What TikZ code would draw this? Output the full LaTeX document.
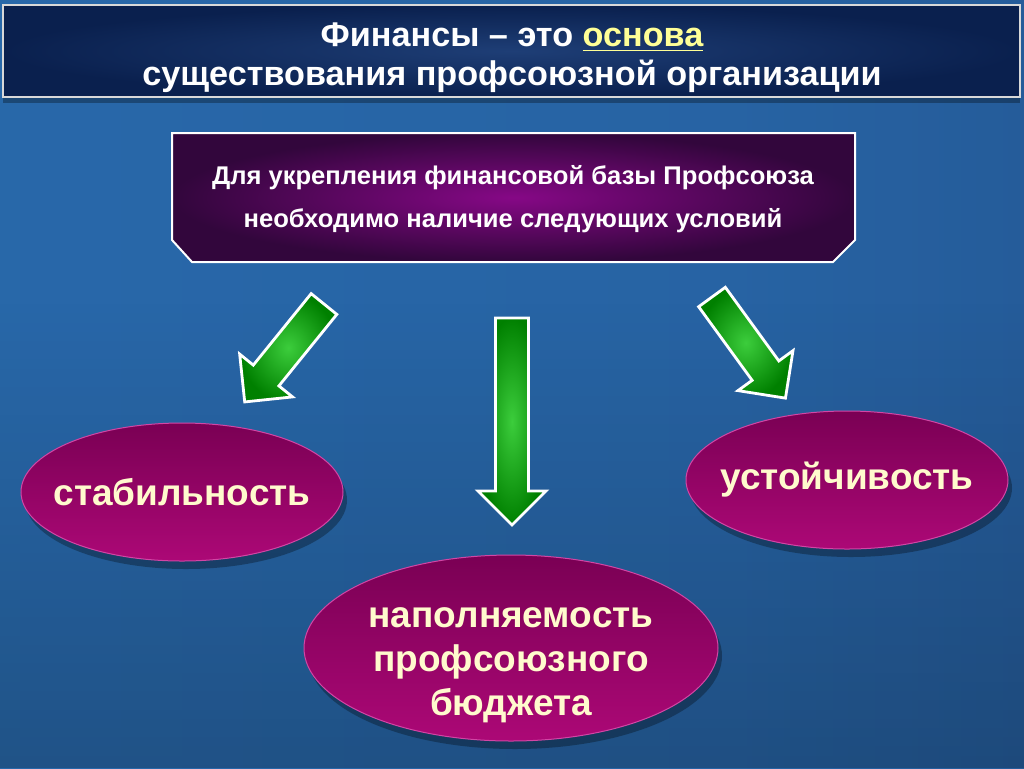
\documentclass[tikz,border=0pt]{standalone}
\usepackage{fontspec}
\setmainfont{Liberation Sans}
\usetikzlibrary{positioning,shapes.geometric,shadows,fadings}

\definecolor{bgLight}{RGB}{78,150,212}
\definecolor{bgMid}{RGB}{40,104,170}
\definecolor{bgDark}{RGB}{34,80,138}
\definecolor{navyDark}{RGB}{10,32,78}
\definecolor{navyMid}{RGB}{30,62,118}
\definecolor{plumDark}{RGB}{50,6,60}
\definecolor{plumMid}{RGB}{134,8,134}
\definecolor{wineDark}{RGB}{122,0,84}
\definecolor{wineMid}{RGB}{172,8,118}
\definecolor{wineRim}{RGB}{210,70,165}
\definecolor{leafDark}{RGB}{0,128,0}
\definecolor{leafLight}{RGB}{60,205,60}
\definecolor{cream}{RGB}{255,250,205}
\definecolor{lemon}{RGB}{255,255,150}

\pgfdeclarehorizontalshading{slide}{100bp}{color(0bp)=(bgLight); color(22bp)=(bgMid); color(60bp)=(bgMid!80!bgDark); color(100bp)=(bgDark)}
\tikzfading[name=fade down, top color=transparent!100, bottom color=transparent!0]

\tikzset{
  banner/.style={draw=black!15, line width=1pt, inner color=navyMid, outer color=navyDark},
  titletext/.style={text=white, align=center, font=\bfseries\fontsize{17.1}{19.5}\selectfont},
  plumbox/.style={draw=white, line width=1pt, inner color=plumMid, outer color=plumDark},
  condtext/.style={text=white, align=center, font=\bfseries\fontsize{12.8}{21.5}\selectfont},
  bubble/.style={ellipse, draw=wineRim, line width=0.5pt, top color=wineDark, bottom color=wineMid,
    inner sep=0pt, drop shadow={shadow xshift=2pt, shadow yshift=-4pt, fill=black, opacity=0.3}},
  bubbletext/.style={text=cream, align=center, font=\bfseries\fontsize{18.5}{22}\selectfont},
  blockarrow/.style={draw=white, line width=1.4pt, line join=miter, inner color=leafLight, outer color=leafDark},
}

\newcommand{\greenarrow}[4]{%
  \begin{scope}[shift={(#1,#2)}, rotate=#3]
    \shade[blockarrow] (0,-16.5) -- ({#4-34},-16.5) -- ({#4-34},-34) -- (#4,0)
      -- ({#4-34},34) -- ({#4-34},16.5) -- (0,16.5) -- cycle;
  \end{scope}
}

\begin{document}
\begin{tikzpicture}[x=0.5pt, y=-0.5pt]
\useasboundingbox (0,0) rectangle (1024,768);

% background
\shade[shading=slide] (0,0) rectangle (1024,768);
\fill[black, opacity=0.2, path fading=fade down] (0,300) rectangle (1024,768);

% title banner
\shade[banner, drop shadow={shadow xshift=0pt, shadow yshift=-3pt, fill=black, opacity=0.3}] (3,5) rectangle (1020,97);
\node[titletext] (title) at (512,58) {Финансы – это \textcolor{lemon}{\underline{основа}}\\существования профсоюзной организации};

% conditions box
\shade[plumbox] (172,133) -- (855,133) -- (855,240) -- (833,262) -- (192,262) -- (172,240) -- cycle;
\node[condtext] (cond) at (513,199) {Для укрепления финансовой базы Профсоюза\\необходимо наличие следующих условий};

% arrows: tail x / tail y / angle / length
\foreach \tx/\ty/\ang/\len in {324/304/231/126, 512/318/-90/207, 712/297/-54/125} {
  \greenarrow{\tx}{\ty}{\ang}{\len}
}

% conditions
\node[bubble, minimum width=161pt, minimum height=69pt, label={[bubbletext]center:стабильность}] (stab) at (182,492) {};
\node[bubble, minimum width=161pt, minimum height=69pt, label={[bubbletext]center:устойчивость}] (ustoi) at (847,480) {};
\node[bubble, minimum width=207pt, minimum height=93pt] (budget) at (511,648) {};
\node[bubbletext] (budgettext) at (511,665) {наполняемость\\профсоюзного\\бюджета};

\end{tikzpicture}
\end{document}
